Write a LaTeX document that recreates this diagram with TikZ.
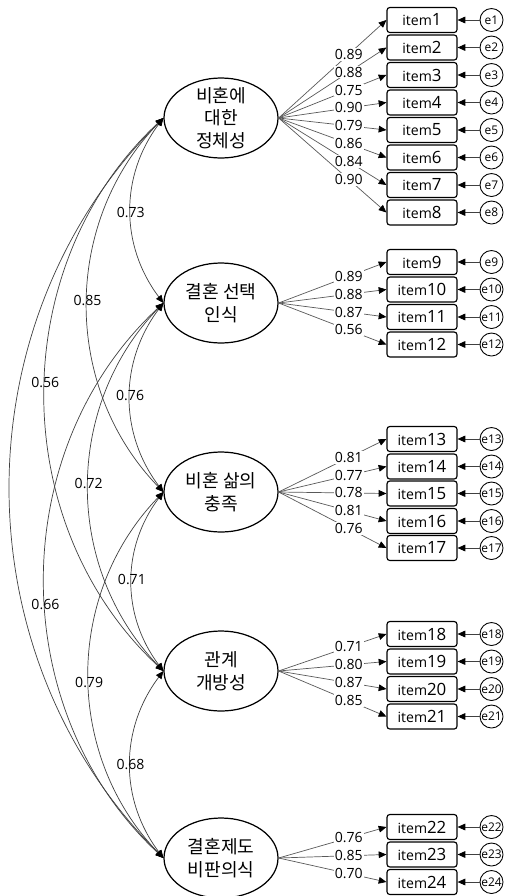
\documentclass[tikz,border=0pt]{standalone}
\usepackage{fontspec}
\setmainfont{Open Sans}
\newfontfamily\kr{Noto Sans CJK KR}
\usetikzlibrary{arrows.meta,shapes.geometric,calc}
\newcommand{\itm}[1]{{\fontsize{8}{9}\selectfont item}{\fontsize{9.6}{10}\selectfont #1}}
\tikzset{
  factor/.style={ellipse,draw,line width=0.7pt,minimum width=2.28cm,minimum height=1.60cm,
    inner sep=-3pt,align=center,font=\kr\fontsize{10.3}{13}\selectfont},
  itembox/.style={draw,line width=0.65pt,rounded corners=1.6pt,minimum width=1.40cm,
    minimum height=0.50cm,inner sep=0pt},
  errc/.style={circle,draw,line width=0.5pt,minimum size=0.46cm,inner sep=0pt,
    font=\fontsize{6.8}{7}\selectfont},
  tip/.style={-{Triangle[length=4.4pt,width=3.8pt,black]}},
  load/.style={tip,draw=black!65,line width=0.4pt},
  errarr/.style={tip,draw=black!75,line width=0.5pt},
  cov/.style={{Triangle[length=4.4pt,width=3.8pt,black]}-{Triangle[length=4.4pt,width=3.8pt,black]},
    draw=black!75,line width=0.4pt},
  lbl/.style={fill=white,inner sep=0.6pt,font=\fontsize{8}{9}\selectfont},
  clbl/.style={inner sep=0pt,font=\fontsize{8}{9}\selectfont}
}
\begin{document}
\begin{tikzpicture}
  \useasboundingbox (0,0) rectangle (10.10,-17.92);
  % factors
  \node[factor] (f1) at (4.42,-2.36) {비혼에\\대한\\정체성};
  \node[factor] (f2) at (4.42,-6.06) {결혼 선택\\인식};
  \node[factor] (f3) at (4.42,-9.84) {비혼 삶의\\충족};
  \node[factor] (f4) at (4.42,-13.42) {관계\\개방성};
  \node[factor] (f5) at (4.42,-17.16) {결혼제도\\비판의식};

  % items
  \node[itembox] (i1) at (8.44,-0.40) {\itm{1}};
  \node[itembox] (i2) at (8.44,-0.95) {\itm{2}};
  \node[itembox] (i3) at (8.44,-1.50) {\itm{3}};
  \node[itembox] (i4) at (8.44,-2.05) {\itm{4}};
  \node[itembox] (i5) at (8.44,-2.60) {\itm{5}};
  \node[itembox] (i6) at (8.44,-3.15) {\itm{6}};
  \node[itembox] (i7) at (8.44,-3.70) {\itm{7}};
  \node[itembox] (i8) at (8.44,-4.25) {\itm{8}};
  \node[itembox] (i9) at (8.44,-5.24) {\itm{9}};
  \node[itembox] (i10) at (8.44,-5.79) {\itm{10}};
  \node[itembox] (i11) at (8.44,-6.34) {\itm{11}};
  \node[itembox] (i12) at (8.44,-6.89) {\itm{12}};
  \node[itembox] (i13) at (8.44,-8.78) {\itm{13}};
  \node[itembox] (i14) at (8.44,-9.33) {\itm{14}};
  \node[itembox] (i15) at (8.44,-9.87) {\itm{15}};
  \node[itembox] (i16) at (8.44,-10.42) {\itm{16}};
  \node[itembox] (i17) at (8.44,-10.96) {\itm{17}};
  \node[itembox] (i18) at (8.44,-12.68) {\itm{18}};
  \node[itembox] (i19) at (8.44,-13.23) {\itm{19}};
  \node[itembox] (i20) at (8.44,-13.78) {\itm{20}};
  \node[itembox] (i21) at (8.44,-14.33) {\itm{21}};
  \node[itembox] (i22) at (8.44,-16.54) {\itm{22}};
  \node[itembox] (i23) at (8.44,-17.09) {\itm{23}};
  \node[itembox] (i24) at (8.44,-17.64) {\itm{24}};

  % errors
  \foreach \n in {1,...,24}{
    \node[errc] (e\n) at ($(i\n)+(1.39,0)$) {e\n};
    \draw[errarr] (e\n) -- (i\n);
  }

  % loadings
  \draw[load] (f1.east) -- node[pos=0.65,lbl] {0.89} (i1.west);
  \draw[load] (f1.east) -- node[pos=0.65,lbl] {0.88} (i2.west);
  \draw[load] (f1.east) -- node[pos=0.65,lbl] {0.75} (i3.west);
  \draw[load] (f1.east) -- node[pos=0.65,lbl] {0.90} (i4.west);
  \draw[load] (f1.east) -- node[pos=0.65,lbl] {0.79} (i5.west);
  \draw[load] (f1.east) -- node[pos=0.65,lbl] {0.86} (i6.west);
  \draw[load] (f1.east) -- node[pos=0.65,lbl] {0.84} (i7.west);
  \draw[load] (f1.east) -- node[pos=0.65,lbl] {0.90} (i8.west);
  \draw[load] (f2.east) -- node[pos=0.65,lbl] {0.89} (i9.west);
  \draw[load] (f2.east) -- node[pos=0.65,lbl] {0.88} (i10.west);
  \draw[load] (f2.east) -- node[pos=0.65,lbl] {0.87} (i11.west);
  \draw[load] (f2.east) -- node[pos=0.65,lbl] {0.56} (i12.west);
  \draw[load] (f3.east) -- node[pos=0.65,lbl] {0.81} (i13.west);
  \draw[load] (f3.east) -- node[pos=0.65,lbl] {0.77} (i14.west);
  \draw[load] (f3.east) -- node[pos=0.65,lbl] {0.78} (i15.west);
  \draw[load] (f3.east) -- node[pos=0.65,lbl] {0.81} (i16.west);
  \draw[load] (f3.east) -- node[pos=0.65,lbl] {0.76} (i17.west);
  \draw[load] (f4.east) -- node[pos=0.65,lbl] {0.71} (i18.west);
  \draw[load] (f4.east) -- node[pos=0.65,lbl] {0.80} (i19.west);
  \draw[load] (f4.east) -- node[pos=0.65,lbl] {0.87} (i20.west);
  \draw[load] (f4.east) -- node[pos=0.65,lbl] {0.85} (i21.west);
  \draw[load] (f5.east) -- node[pos=0.65,lbl] {0.76} (i22.west);
  \draw[load] (f5.east) -- node[pos=0.65,lbl] {0.85} (i23.west);
  \draw[load] (f5.east) -- node[pos=0.65,lbl] {0.70} (i24.west);

  % covariances
  \draw[cov] (f1.west) to[bend right=37] node[clbl,pos=0.51] {0.73} (f2.west);
  \draw[cov] (f1.west) to[bend right=44] node[clbl,pos=0.49] {0.85} (f3.west);
  \draw[cov] (f1.west) to[bend right=47] node[clbl,pos=0.48] {0.56} (f4.west);
  \draw[cov] (f1.west) to[bend right=45] (f5.west);
  \draw[cov] (f2.west) to[bend right=37] node[clbl,pos=0.49] {0.76} (f3.west);
  \draw[cov] (f2.west) to[bend right=44] node[clbl,pos=0.49] {0.72} (f4.west);
  \draw[cov] (f2.west) to[bend right=47] node[clbl,pos=0.54] {0.66} (f5.west);
  \draw[cov] (f3.west) to[bend right=37] node[clbl,pos=0.49] {0.71} (f4.west);
  \draw[cov] (f3.west) to[bend right=44] node[clbl,pos=0.52] {0.79} (f5.west);
  \draw[cov] (f4.west) to[bend right=37] node[clbl,pos=0.50] {0.68} (f5.west);
\end{tikzpicture}
\end{document}
